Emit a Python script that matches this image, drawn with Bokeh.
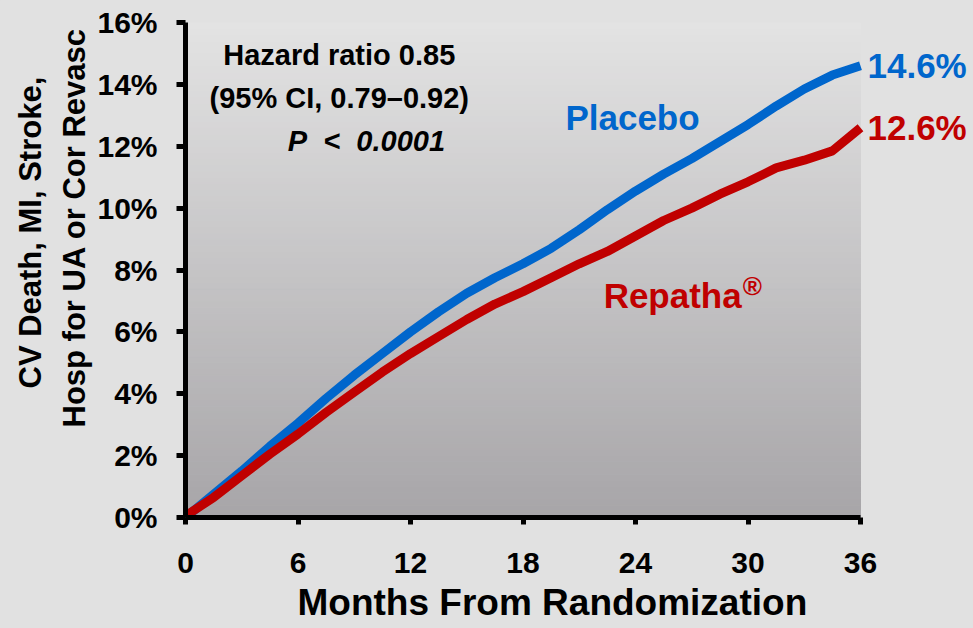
import numpy as np
from bokeh.plotting import figure
from bokeh.models import Range1d, FixedTicker, Label, Title, GlobalInlineStyleSheet
from bokeh.embed import file_html
from bokeh.resources import INLINE

# ---- data ----
months = [0, 1.5, 3, 4.5, 6, 7.5, 9, 10.5, 12, 13.5, 15, 16.5, 18, 19.5, 21, 22.5,
          24, 25.5, 27, 28.5, 30, 31.5, 33, 34.5, 36]
placebo = [0.0, 0.75, 1.5, 2.3, 3.05, 3.85, 4.6, 5.3, 6.0, 6.65, 7.25, 7.75, 8.2, 8.7,
           9.3, 9.95, 10.55, 11.1, 11.6, 12.15, 12.7, 13.3, 13.85, 14.3, 14.6]
months_r = [0, 1.5, 3, 4.5, 6, 7.5, 9, 10.5, 12, 13.5, 15, 16.5, 18, 19.5, 21, 22.5,
            24, 25.5, 27, 28.5, 30, 31.5, 33, 34.5, 35.5, 36]
repatha = [0.05, 0.65, 1.35, 2.05, 2.7, 3.4, 4.05, 4.7, 5.3, 5.85, 6.4, 6.9, 7.3, 7.75,
           8.2, 8.6, 9.1, 9.6, 10.0, 10.45, 10.85, 11.3, 11.55, 11.85, 12.35, 12.6]
x_ticks = [0, 6, 12, 18, 24, 30, 36]
y_ticks = [0, 2, 4, 6, 8, 10, 12, 14, 16]
y_tick_labels = ["0%", "2%", "4%", "6%", "8%", "10%", "12%", "14%", "16%"]
placebo_end_label = "14.6%"
repatha_end_label = "12.6%"
x_title = "Months From Randomization"
y_title_lines = ["CV Death, MI, Stroke,", "Hosp for UA or Cor Revasc"]

BLUE = "#0066CC"
RED = "#C00000"
BG = "#E1E1E1"
FONT = "Liberation Sans"

X_MAX = 36
# frame extends to the right canvas edge so the end labels are not clipped
X_VIEW_MAX = X_MAX * (973 - 185) / 675.0

p = figure(width=973, height=628, output_backend="svg", toolbar_location=None,
           x_range=Range1d(0, X_VIEW_MAX), y_range=Range1d(0, 16),
           min_border_left=185, min_border_right=0, min_border_top=22, min_border_bottom=111)
p.stylesheets = [GlobalInlineStyleSheet(css="body { background: #E1E1E1; }")]
p.background_fill_color = BG
p.border_fill_color = BG
p.outline_line_color = None
p.grid.visible = False

# gradient background of the plot area (styling)
n = 80
edges = np.linspace(0, 16, n + 1)
top_rgb = np.array([227, 227, 227])
bot_rgb = np.array([167, 165, 168])
cols = []
for i in range(n):
    t = (edges[i] + edges[i + 1]) / 2 / 16
    c = bot_rgb + (top_rgb - bot_rgb) * t
    cols.append("#%02x%02x%02x" % tuple(int(round(v)) for v in c))
p.quad(left=0, right=X_MAX, bottom=edges[:-1], top=edges[1:], fill_color=cols, line_color=cols, line_width=1)

# curves
p.line(months, placebo, line_color=BLUE, line_width=9, line_join="round", line_cap="butt")
p.line(months_r, repatha, line_color=RED, line_width=9, line_join="round", line_cap="butt")

# axes
for ax in (p.xaxis[0], p.yaxis[0]):
    ax.axis_line_width = 5
    ax.axis_line_color = "black"
    ax.major_tick_line_width = 5
    ax.major_tick_line_color = "black"
    ax.major_tick_in = 0
    ax.minor_tick_line_color = None
    ax.major_label_text_font = FONT
    ax.major_label_text_font_style = "bold"
    ax.major_label_text_font_size = "30px"
    ax.major_label_text_color = "black"

p.xaxis.ticker = FixedTicker(ticks=x_ticks)
p.xaxis.bounds = (0, X_MAX)
p.xaxis.major_tick_out = 7
p.xaxis.major_label_standoff = 28

p.yaxis.ticker = FixedTicker(ticks=y_ticks)
p.yaxis.major_label_overrides = {t: l for t, l in zip(y_ticks, y_tick_labels)}
p.yaxis.major_tick_out = 9
p.yaxis.major_label_standoff = 19

# axis titles as side titles (positioned like the reference)
p.add_layout(Title(text=x_title, align="left", offset=112, standoff=9,
                   text_font=FONT, text_font_style="bold", text_font_size="37px",
                   text_color="black"), "below")
p.add_layout(Title(text=y_title_lines[1], align="left", offset=90, standoff=6,
                   text_font=FONT, text_font_style="bold", text_font_size="31px",
                   text_color="black"), "left")
p.add_layout(Title(text=y_title_lines[0], align="left", offset=129, standoff=8,
                   text_font=FONT, text_font_style="bold", text_font_size="31px",
                   text_color="black"), "left")

def lab(x, y, text, size, color="black", align="left", style="bold", baseline="alphabetic", xo=0):
    p.add_layout(Label(x=x, y=y, text=text, text_font=FONT, text_font_size=size,
                       text_font_style=style, text_color=color, text_align=align,
                       text_baseline=baseline, x_offset=xo))

lab(8.2, 14.96, "Hazard ratio 0.85", "29px", align="center")
lab(8.2, 13.57, "(95% CI, 0.79\u20130.92)", "29px", align="center")
lab(9.65, 12.18, "P\u00a0\u00a0<\u00a0\u00a00.0001", "29px", align="center", style="bold italic")

lab(23.84, 12.93, "Placebo", "35px", color=BLUE, align="center")
lab(22.3, 7.18, "Repatha", "35px", color=RED)
lab(29.72, 7.47, "\u00ae", "26px", color=RED)

lab(X_MAX, placebo[-1], placebo_end_label, "35px", color=BLUE, baseline="middle", xo=7)
lab(X_MAX, repatha[-1], repatha_end_label, "35px", color=RED, baseline="middle", xo=7)

open("out.html", "w").write(file_html(p, INLINE))
